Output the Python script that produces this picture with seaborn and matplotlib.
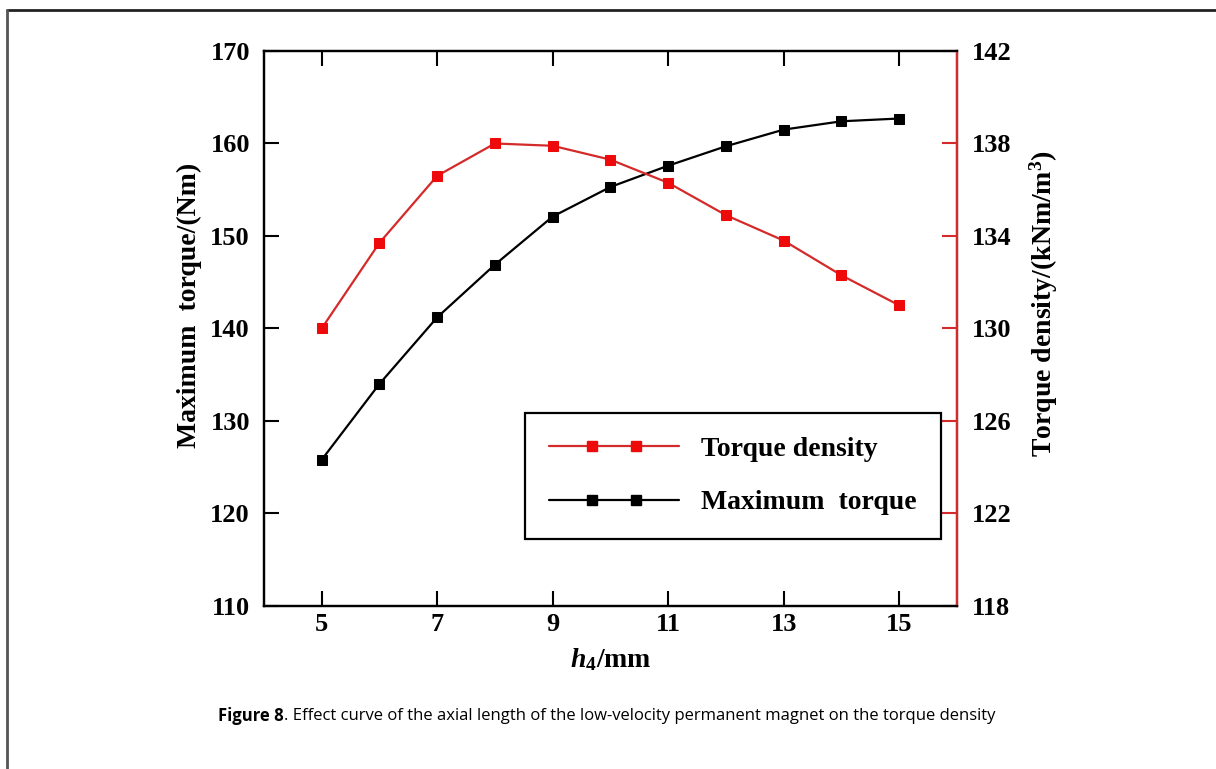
import numpy as np
import pandas as pd
import matplotlib
matplotlib.use("Agg")
import matplotlib.pyplot as plt
import seaborn as sns
from matplotlib.lines import Line2D
from matplotlib.legend_handler import HandlerLine2D, HandlerTuple

# data
h4 = [5, 6, 7, 8, 9, 10, 11, 12, 13, 14, 15]
max_torque = [125.8, 134.0, 141.2, 146.9, 152.1, 155.3, 157.6, 159.7, 161.5, 162.4, 162.7]
torque_density = [130.0, 133.7, 136.6, 138.0, 137.9, 137.3, 136.3, 134.9, 133.8, 132.3, 131.0]

x_ticks = [5, 7, 9, 11, 13, 15]
left_ticks = [110, 120, 130, 140, 150, 160, 170]
right_ticks = [118, 122, 126, 130, 134, 138, 142]

RED_LINE = "#d42a2a"
RED_MARK = "#ee0a0a"

sns.set_style("ticks")
plt.rcParams["font.family"] = ["Liberation Serif", "DejaVu Serif"]
plt.rcParams["font.weight"] = "bold"
plt.rcParams["text.color"] = "black"
plt.rcParams["axes.labelcolor"] = "black"
plt.rcParams["xtick.color"] = "black"
plt.rcParams["ytick.color"] = "black"
plt.rcParams["mathtext.fontset"] = "custom"
plt.rcParams["mathtext.rm"] = "Liberation Serif:bold"
plt.rcParams["mathtext.bf"] = "Liberation Serif:bold"
plt.rcParams["mathtext.it"] = "Liberation Serif:italic:bold"
plt.rcParams["mathtext.bfit"] = "Liberation Serif:italic:bold"

df = pd.DataFrame({"h4": h4, "max_torque": max_torque, "torque_density": torque_density})

fig = plt.figure(figsize=(12.16, 7.69), dpi=100)
ax = fig.add_axes([0.217, 0.212, 0.570, 0.7217])

sns.lineplot(data=df, x="h4", y="max_torque", ax=ax, color="black", marker="s",
             markersize=7, linewidth=1.6, markeredgecolor="black")
ax2 = ax.twinx()
sns.lineplot(data=df, x="h4", y="torque_density", ax=ax2, color=RED_LINE, marker="s",
             markersize=7, linewidth=1.6, markerfacecolor=RED_MARK, markeredgecolor=RED_MARK)

ax.set_xlim(4, 16)
ax.set_ylim(110, 170)
ax2.set_ylim(118, 142)
ax.set_xticks(x_ticks)
ax.set_yticks(left_ticks)
ax2.set_yticks(right_ticks)

ax.tick_params(axis="both", direction="in", length=11, width=1.5, labelsize=19,
               top=True, right=False, colors="black")
ax.tick_params(axis="x", pad=5)
ax.tick_params(axis="y", pad=10)
ax2.tick_params(axis="y", direction="in", length=11, width=1.5, labelsize=19,
                color=RED_LINE, labelcolor="black", pad=11)

for a in (ax, ax2):
    for s in a.spines.values():
        s.set_linewidth(1.6)
        s.set_color("black")
ax2.spines["right"].set_color(RED_LINE)

ax.set_xlabel(r"$\mathbfit{h}_{\mathbf{4}}$/mm", fontsize=20, fontweight="bold")
ax.set_ylabel("Maximum  torque/(Nm)", fontsize=20, fontweight="bold")
ax2.set_ylabel(r"Torque density/(kNm/m$^{\mathbf{3}}$)", fontsize=20, fontweight="bold")
ax.xaxis.set_label_coords(0.5, -0.072)
ax.yaxis.set_label_coords(-0.089, 0.542)
ax2.yaxis.set_label_coords(1.102, 0.544)

# legend: line with two square markers at one and two thirds
fs = 20
hl = 4.7
handles = []
hmap = {}
for col, mcol in [(RED_LINE, RED_MARK), ("black", "black")]:
    ln = Line2D([], [], color=col, lw=1.6)
    mk = Line2D([], [], color=mcol, marker="s", ms=7, ls="none")
    hmap[ln] = HandlerLine2D(marker_pad=0, numpoints=2)
    hmap[mk] = HandlerLine2D(marker_pad=hl / 3, numpoints=2)
    handles.append((ln, mk))
hmap[tuple] = HandlerTuple(ndivide=1)
leg = ax2.legend(handles, ["Torque density", "Maximum  torque"], handler_map=hmap,
                 loc="upper left", bbox_to_anchor=(0.3766, 0.3477), borderaxespad=0,
                 fontsize=fs, handlelength=hl, handletextpad=0.8, borderpad=0.85,
                 labelspacing=1.0, fancybox=False, framealpha=1, edgecolor="black")
leg.get_frame().set_linewidth(1.6)
for t in leg.get_texts():
    t.set_fontweight("bold")
    t.set_color("black")

# page border (top and left)
fig.add_artist(Line2D([6.5 / 1216, 1], [1 - 10 / 769] * 2, transform=fig.transFigure,
                      color="#222222", lw=2))
fig.add_artist(Line2D([6.5 / 1216] * 2, [1 - 10 / 769, 0], transform=fig.transFigure,
                      color="#555555", lw=2))

# caption
cap_y = 1 - 716 / 769
t1 = fig.text(218 / 1216, cap_y, "Figure 8", fontsize=12, fontweight="bold",
              family=["Open Sans", "DejaVu Sans"], va="center", ha="left", color="black")
fig.canvas.draw()
bb = t1.get_window_extent()
fig.text(bb.x1 / 1216, cap_y,
         ". Effect curve of the axial length of the low-velocity permanent magnet on the torque density",
         fontsize=12, fontweight="normal", family=["Open Sans", "DejaVu Sans"],
         va="center", ha="left", color="black")

fig.savefig("out.png", dpi=100)
